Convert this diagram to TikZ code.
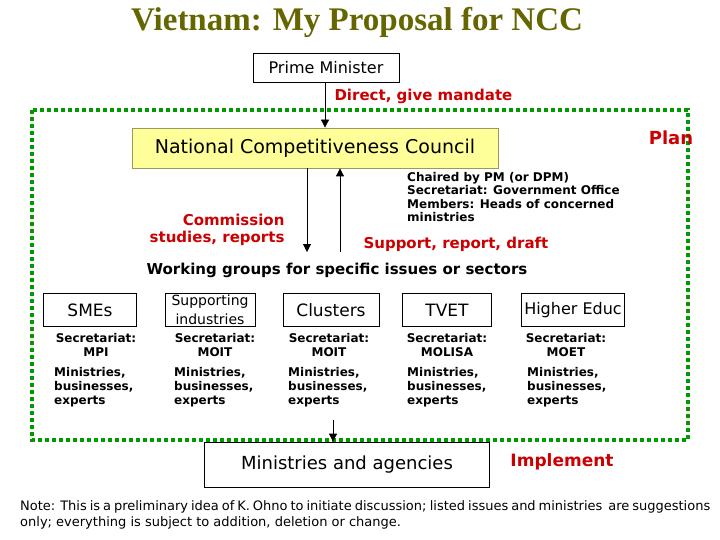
\documentclass[tikz,border=0pt]{standalone}
\usepackage{fontspec}
\setmainfont{DejaVu Sans}
\newfontfamily\titlefont{Liberation Serif}
\usetikzlibrary{arrows.meta}
\definecolor{olivetitle}{RGB}{102,102,0}
\definecolor{redlabel}{RGB}{204,0,0}
\definecolor{borderGreen}{RGB}{0,153,0}
\definecolor{nccyellow}{RGB}{255,255,153}
\tikzset{
  box/.style={draw, thick, inner sep=0pt},
  redtxt/.style={text=redlabel, font=\fontsize{15}{17}\selectfont\bfseries},
  smalltxt/.style={font=\fontsize{12}{14}\selectfont\bfseries, align=left, anchor=north west},
  sectxt/.style={font=\fontsize{12}{14}\selectfont\bfseries, align=center},
  arr/.style={-{Triangle[length=8pt,width=8pt]}, thick}
}
\begin{document}
\begin{tikzpicture}[x=1pt,y=-1pt]
    \useasboundingbox (0,0) rectangle (720,540);
    % Title
    \node[text=olivetitle, font=\titlefont\fontsize{33}{35}\selectfont\bfseries] (title) at (357,22) {Vietnam: My Proposal for NCC};
    % Top
    \node[box, minimum width=146, minimum height=29, font=\fontsize{16}{18}\selectfont] (pm) at (326,67.5) {Prime Minister};
    \node[redtxt, anchor=west] (mandate) at (331,96) {Direct, give mandate};
    % Dotted frame
    \draw[borderGreen, line width=4pt, dash pattern=on 4pt off 3pt] (32,110) rectangle (688,440);
    \node[box, fill=nccyellow, draw=nccyellow!60!black, minimum width=366, minimum height=40, font=\fontsize{19}{21}\selectfont] (ncc) at (315,148) {National Competitiveness Council};
    \node[redtxt, font=\fontsize{18}{20}\selectfont\bfseries] (plan) at (671,138) {Plan};
    \coordinate (downend) at (307,252);
    \coordinate (upstart) at (340,252);
    \draw[arr] (pm.south -| 325,0) -- (ncc.north -| 325,0);
    \draw[arr] (ncc.south -| downend) -- (downend);
    \draw[arr] (upstart) -- (ncc.south -| upstart);
    \node[redtxt, align=right, anchor=east] (commission) at (288,230) {Commission\\studies, reports};
    \node[smalltxt, font=\fontsize{12}{13.5}\selectfont\bfseries, inner sep=0pt] (chair) at (407,172) {Chaired by PM (or DPM)\\Secretariat: Government Office\\Members: Heads of concerned\\ministries};
    \node[redtxt, anchor=west] (support) at (360,244) {Support, report, draft};
    \node[font=\fontsize{15}{17}\selectfont\bfseries] (working) at (337,270) {Working groups for specific issues or sectors};
    % Working groups
    \foreach \name/\cx/\w/\sx/\mx/\txt/\sec in {
        smes/90/93/96/54/{SMEs}/MPI,
        supp/210/90/215/174/{\fontsize{14}{15}\selectfont Supporting\\\fontsize{14}{15}\selectfont industries}/MOIT,
        clus/331/96/329/288/{Clusters}/MOIT,
        tvet/447/89/447/407/{TVET}/MOLISA,
        heduc/573/103/566/527/{\fontsize{16}{18}\selectfont Higher Educ}/MOET} {
      \node[box, minimum width=\w, minimum height=33, align=center, font=\fontsize{17}{19}\selectfont] (\name) at (\cx,310) {\txt};
      \node[sectxt] (\name sec) at (\sx,345) {Secretariat:\\\sec};
      \node[smalltxt, anchor=north west, inner sep=0pt] (\name mem) at (\mx,367) {Ministries,\\businesses,\\experts};
    }
    % Bottom
    \node[box, minimum width=285, minimum height=45, font=\fontsize{18}{20}\selectfont] (mins) at (347,464.5) {Ministries and agencies};
    \coordinate (frameout) at (333,420);
    \draw[arr] (frameout) -- (frameout |- mins.north);
    \node[redtxt, font=\fontsize{17}{19}\selectfont\bfseries] (impl) at (562,462) {Implement};
    \node[font=\fontsize{13}{16}\selectfont, align=justify, anchor=north west, text width=690, inner sep=0pt] (note) at (20,500) {Note: This is a preliminary idea of K. Ohno to initiate discussion; listed issues and ministries~ are \mbox{suggestions} only; everything is subject to addition, deletion or change.};
\end{tikzpicture}
\end{document}
